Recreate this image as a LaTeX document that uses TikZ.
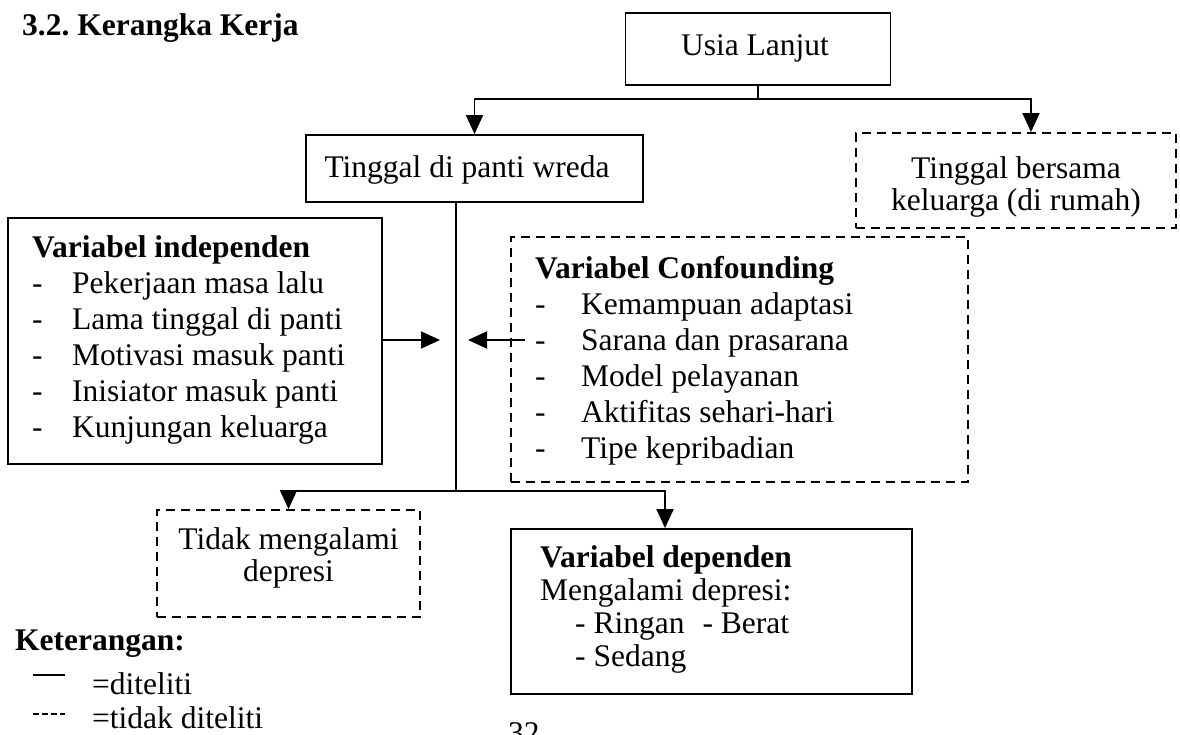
\documentclass[tikz,border=0pt]{standalone}
\usepackage{fontspec}
\setmainfont{Liberation Serif}
\usetikzlibrary{arrows.meta}
\frenchspacing
\begin{document}
\begin{tikzpicture}[x=1pt,y=-1pt,
  txt/.style={inner sep=0pt, anchor=base west, font=\fontsize{31.5}{36}\selectfont},
  ctxt/.style={inner sep=0pt, anchor=base, font=\fontsize{31.5}{36}\selectfont},
  bold/.style={font=\fontsize{31.5}{36}\selectfont\bfseries},
  solidbox/.style={draw, line width=1.8pt, inner sep=0pt},
  dashbox/.style={draw, line width=1.8pt, inner sep=0pt, dash pattern=on 9pt off 6pt},
  conn/.style={line width=1.8pt},
  arr/.style={line width=1.8pt, -{Triangle[length=19pt,width=17pt]}},
]
\useasboundingbox (0,0) rectangle (1180,734);
\clip (0,0) rectangle (1180,734);

% title
\node[txt,bold] (title) at (22,35) {3.2. Kerangka Kerja};

% boxes
\node[solidbox, minimum width=265pt, minimum height=72pt] (usia) at (758,49) {};
\node[solidbox, minimum width=337pt, minimum height=67pt] (tinggal) at (474.5,168.5) {};
\node[dashbox, minimum width=320pt, minimum height=95pt] (bersama) at (1016,180.5) {};
\node[solidbox, minimum width=374pt, minimum height=246pt] (indep) at (195,341) {};
\node[dashbox, minimum width=457pt, minimum height=245pt] (conf) at (739.5,359.5) {};
\node[dashbox, minimum width=263pt, minimum height=107pt] (tidak) at (288.5,563.5) {};
\node[solidbox, minimum width=401pt, minimum height=165pt] (dep) at (711.5,611.5) {};

% texts
\node[ctxt] (usiaT) at (755,55) {Usia Lanjut};
\node[ctxt] (tinggalT) at (467,177) {Tinggal di panti wreda};
\node[ctxt] (bersamaT1) at (1016,178) {Tinggal bersama};
\node[ctxt] (bersamaT2) at (1016,210) {keluarga (di rumah)};

\node[txt,bold] (indT) at (32,257) {Variabel independen};
\node[txt] (ind1) at (32,293) {\makebox[40pt][l]{-}Pekerjaan masa lalu};
\node[txt] (ind2) at (32,329) {\makebox[40pt][l]{-}Lama tinggal di panti};
\node[txt] (ind3) at (32,365) {\makebox[40pt][l]{-}Motivasi masuk panti};
\node[txt] (ind4) at (32,401) {\makebox[40pt][l]{-}Inisiator masuk panti};
\node[txt] (ind5) at (32,437) {\makebox[40pt][l]{-}Kunjungan keluarga};

\node[txt,bold] (confT) at (535,278) {Variabel Confounding};
\node[txt] (conf1) at (535,314) {\makebox[46pt][l]{-}Kemampuan adaptasi};
\node[txt] (conf2) at (535,350) {\makebox[46pt][l]{-}Sarana dan prasarana};
\node[txt] (conf3) at (535,386) {\makebox[46pt][l]{-}Model pelayanan};
\node[txt] (conf4) at (535,422) {\makebox[46pt][l]{-}Aktifitas sehari-hari};
\node[txt] (conf5) at (535,458) {\makebox[46pt][l]{-}Tipe kepribadian};

\node[ctxt] (tidakT1) at (288.5,549) {Tidak mengalami};
\node[ctxt] (tidakT2) at (288.5,581) {depresi};

\node[txt,bold] (depT) at (540,567) {Variabel dependen};
\node[txt] (dep1) at (540,600) {Mengalami depresi:};
\node[txt] (dep2) at (575,633) {- Ringan\hspace{18pt}- Berat};
\node[txt] (dep3) at (575,666) {- Sedang};

% connectors top
\coordinate (split1) at (758,99);
\draw[conn] (usia.south) -- (split1);
\draw[arr] (split1) -| (tinggal.north);
\draw[arr] (split1) -| (1031,0 |- bersama.north);

% side arrows
\coordinate (indTip) at (440,340);
\coordinate (confStart) at (525,340);
\coordinate (confTip) at (468,340);
\draw[arr] (indep.east |- indTip) -- (indTip);
\draw[arr] (confStart) -- (confTip);

% trunk and bottom split
\coordinate (split2) at (456,491);
\draw[conn] (456,0 |- tinggal.south) -- (split2);
\draw[arr] (split2) -| (tidak.north);
\draw[arr] (split2) -| (665,0 |- dep.north);

% legend
\node[txt,bold] (ket) at (15,650) {Keterangan:};
\coordinate (legA1) at (33,675);
\coordinate (legA2) at (65,675);
\draw[line width=1.5pt] (legA1) -- (legA2);
\node[txt] (ketA) at (92,694) {=diteliti};
\coordinate (legB1) at (33,714);
\coordinate (legB2) at (65,714);
\draw[line width=1.5pt, dash pattern=on 6pt off 3pt] (legB1) -- (legB2);
\node[txt] (ketB) at (92,728) {=tidak diteliti};

\node[txt] (page) at (508,743) {32};
\end{tikzpicture}
\end{document}
